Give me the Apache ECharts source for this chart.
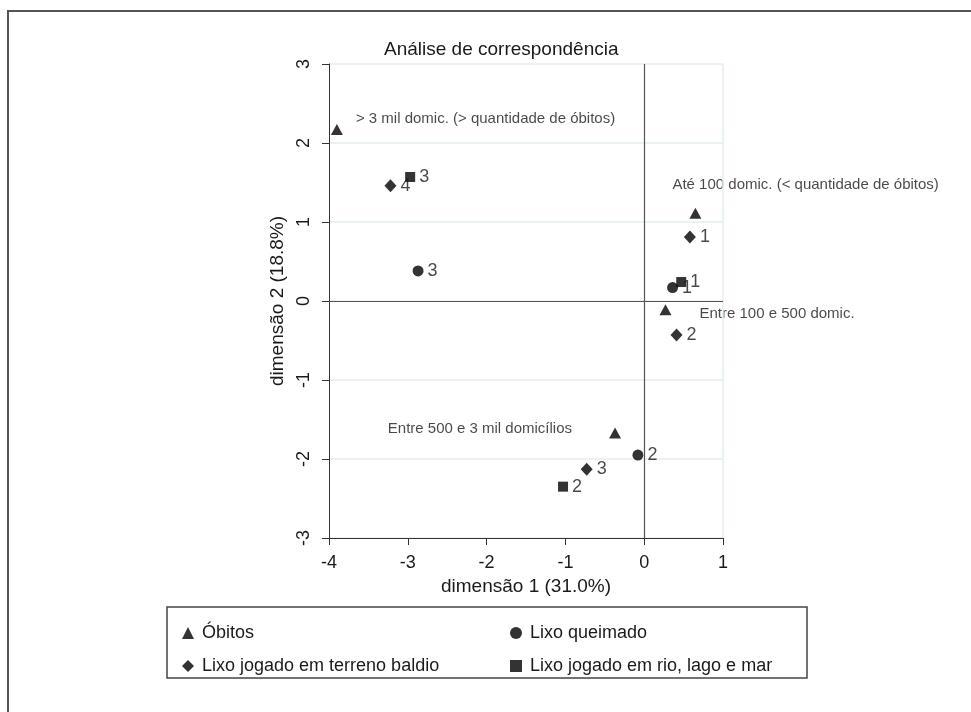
<!DOCTYPE html>
<html>
<head>
<meta charset="utf-8">
<script src="https://cdn.jsdelivr.net/npm/echarts@6/dist/echarts.min.js"></script>
<style>
html,body{margin:0;padding:0;background:#fff;}
#chart{width:971px;height:712px;}
</style>
</head>
<body>
<div id="chart"></div>
<script>
// ---- data ----
const seriesNames = ['Óbitos', 'Lixo queimado', 'Lixo jogado em terreno baldio', 'Lixo jogado em rio, lago e mar'];

const obitosX = [-3.90, 0.65, 0.27, -0.37];
const obitosY = [2.17, 1.11, -0.11, -1.67];
const obitosLabels = ['> 3 mil domic. (> quantidade de óbitos)', 'Até 100 domic. (< quantidade de óbitos)', 'Entre 100 e 500 domic.', 'Entre 500 e 3 mil domicílios'];

const queimadoX = [-2.87, 0.36, -0.08];
const queimadoY = [0.38, 0.17, -1.95];
const queimadoLabels = ['3', '1', '2'];

const baldioX = [-3.22, 0.58, 0.41, -0.73];
const baldioY = [1.46, 0.81, -0.43, -2.13];
const baldioLabels = ['4', '1', '2', '3'];

const rioX = [-2.97, 0.47, -1.03];
const rioY = [1.57, 0.24, -2.35];
const rioLabels = ['3', '1', '2'];

const xTicks = [-4, -3, -2, -1, 0, 1];
const yTicks = [-3, -2, -1, 0, 1, 2, 3];

// ---- label placement for the Óbitos text labels (style only) ----
const obitosLabelStyle = [
  {align: 'left', offset: [19, -11]},
  {align: 'left', offset: [-23, -28]},
  {align: 'left', offset: [34, 4]},
  {align: 'right', offset: [-43, -4]}
];

const TXT = '#1a1a1a';
const FONT = 'Liberation Sans, Arial, sans-serif';

function pts(xs, ys, labels) {
  return xs.map((x, i) => ({value: [x, ys[i]], name: labels[i]}));
}

const obitosData = obitosX.map((x, i) => ({
  value: [x, obitosY[i]],
  name: obitosLabels[i],
  label: {
    show: true, position: 'inside', formatter: '{b}',
    align: obitosLabelStyle[i].align, verticalAlign: 'middle',
    offset: obitosLabelStyle[i].offset,
    fontSize: 15, color: TXT, fontFamily: FONT
  }
}));

const numLabel = {
  show: true, position: 'right', distance: 4, formatter: '{b}',
  fontSize: 18, color: TXT, fontFamily: FONT
};

const chart = echarts.init(document.getElementById('chart'), null, {renderer: 'canvas'});

const option = {
  backgroundColor: '#fff',
  animation: false,
  title: {
    text: 'Análise de correspondência',
    left: 379, top: 35,
    textStyle: {fontSize: 19, fontWeight: 'normal', color: TXT, fontFamily: FONT}
  },
  grid: {left: 329, right: 248, top: 64, bottom: 174, containLabel: false},
  xAxis: {
    type: 'value', min: -4, max: 1, interval: 1,
    name: 'dimensão 1 (31.0%)', nameLocation: 'middle', nameGap: 36,
    nameTextStyle: {fontSize: 19, color: TXT, fontFamily: FONT},
    axisLine: {show: true, onZero: false, lineStyle: {color: '#333', width: 1}},
    axisTick: {show: true, length: 7, lineStyle: {color: '#333'}},
    axisLabel: {fontSize: 18, color: TXT, fontFamily: FONT, margin: 16,
      formatter: v => xTicks.includes(v) ? String(v) : ''},
    splitLine: {show: false}
  },
  yAxis: {
    type: 'value', min: -3, max: 3, interval: 1,
    name: 'dimensão 2 (18.8%)', nameLocation: 'middle', nameGap: 42, nameRotate: 90,
    nameTextStyle: {fontSize: 19, color: TXT, fontFamily: FONT},
    axisLine: {show: true, onZero: false, lineStyle: {color: '#333', width: 1}},
    axisTick: {show: true, length: 7, lineStyle: {color: '#333'}},
    axisLabel: {fontSize: 18, color: TXT, fontFamily: FONT, rotate: 90, margin: 16,
      formatter: v => yTicks.includes(v) ? String(v) : ''},
    splitLine: {show: true, lineStyle: {color: '#e4eef0', width: 1.5}}
  },
  legend: [
    {
      data: [seriesNames[0], seriesNames[2]],
      orient: 'vertical', left: 177, top: 619,
      itemWidth: 12, itemHeight: 12, itemGap: 15,
      textStyle: {fontSize: 18, color: TXT, fontFamily: FONT, padding: [0, 0, 0, 3]},
      selectedMode: false
    },
    {
      data: [seriesNames[1], seriesNames[3]],
      orient: 'vertical', left: 505, top: 619,
      itemWidth: 12, itemHeight: 12, itemGap: 15,
      textStyle: {fontSize: 18, color: TXT, fontFamily: FONT, padding: [0, 0, 0, 3]},
      selectedMode: false
    }
  ],
  graphic: [
    {type: 'rect', silent: true, z: -1,
      shape: {x: 8, y: 11, width: 1100, height: 1000},
      style: {fill: 'none', stroke: '#555', lineWidth: 2}},
    {type: 'rect', silent: true,
      shape: {x: 167, y: 607, width: 640, height: 71},
      style: {fill: 'none', stroke: '#444', lineWidth: 1.5}}
  ],
  series: [
    {
      name: seriesNames[0], type: 'scatter', symbol: 'triangle', symbolSize: [12, 11],
      itemStyle: {color: '#000'},
      data: obitosData,
      markLine: {
        silent: true, symbol: 'none', label: {show: false}, animation: false,
        data: [
          {xAxis: 1, lineStyle: {color: '#e4eef0', width: 1.5, type: 'solid'}},
          {xAxis: 0, lineStyle: {color: '#555', width: 1.2, type: 'solid'}},
          {yAxis: 0, lineStyle: {color: '#555', width: 1.2, type: 'solid'}}
        ]
      }
    },
    {
      name: seriesNames[1], type: 'scatter', symbol: 'circle', symbolSize: 11,
      itemStyle: {color: '#000'}, label: numLabel,
      data: pts(queimadoX, queimadoY, queimadoLabels)
    },
    {
      name: seriesNames[2], type: 'scatter', symbol: 'diamond', symbolSize: [12, 13],
      itemStyle: {color: '#000'}, label: numLabel,
      data: pts(baldioX, baldioY, baldioLabels)
    },
    {
      name: seriesNames[3], type: 'scatter', symbol: 'rect', symbolSize: 10,
      itemStyle: {color: '#000'}, label: numLabel,
      data: pts(rioX, rioY, rioLabels)
    }
  ]
};
chart.setOption(option);
</script>
</body>
</html>
